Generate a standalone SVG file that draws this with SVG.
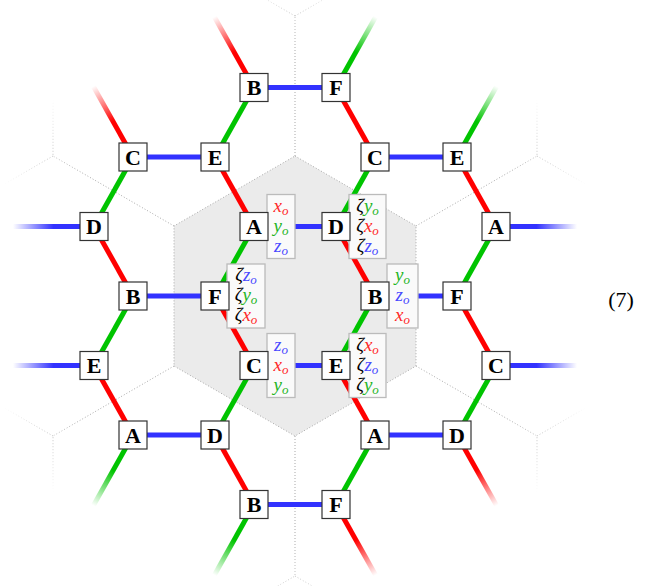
<svg xmlns="http://www.w3.org/2000/svg" width="670" height="586" viewBox="0 0 670 586">
<style>
.nb{fill:#fff;stroke:#333;stroke-width:1.2}
.nt{font-family:"Liberation Serif",serif;font-weight:bold;font-size:22px;text-anchor:middle;fill:#000}
.lb{fill:#fafafa;stroke:#bbb;stroke-width:1.3}
.lt{font-family:"Liberation Serif",serif;font-style:italic;font-size:19px;text-anchor:middle}
.sub{font-size:13px}
.r{fill:#ff2a2a}.g{fill:#1fb51f}.b{fill:#4a4aff}.k{fill:#000}
.er{stroke:#ff0000;stroke-width:5}
.eg{stroke:#00c400;stroke-width:5}
.eb{stroke:#3232ff;stroke-width:5}
.dot{fill:none;stroke:#a8a8a8;stroke-width:1;stroke-dasharray:1 2}
</style>
<defs>
<linearGradient id="fr" gradientUnits="userSpaceOnUse" x1="0" y1="0" x2="81" y2="0"><stop offset="0" stop-color="#ff0000"/><stop offset="0.5" stop-color="#ff0000"/><stop offset="1" stop-color="#ff0000" stop-opacity="0"/></linearGradient>
<linearGradient id="fg" gradientUnits="userSpaceOnUse" x1="0" y1="0" x2="81" y2="0"><stop offset="0" stop-color="#00c400"/><stop offset="0.5" stop-color="#00c400"/><stop offset="1" stop-color="#00c400" stop-opacity="0"/></linearGradient>
<linearGradient id="fb" gradientUnits="userSpaceOnUse" x1="0" y1="0" x2="81" y2="0"><stop offset="0" stop-color="#3232ff"/><stop offset="0.5" stop-color="#3232ff"/><stop offset="1" stop-color="#3232ff" stop-opacity="0"/></linearGradient>
<radialGradient id="rg" gradientUnits="userSpaceOnUse" cx="295" cy="296" r="312"><stop offset="0" stop-color="#fff"/><stop offset="0.78" stop-color="#fff"/><stop offset="0.9" stop-color="#aaa"/><stop offset="1" stop-color="#000"/></radialGradient>
<mask id="fm" maskUnits="userSpaceOnUse" x="0" y="0" width="670" height="586"><rect width="670" height="586" fill="url(#rg)"/></mask>
</defs>

<g id="background">
<polygon points="295,156 416,226 416,366 295,436 174,366 174,226" class="dot" style="fill:#ebebeb"/>
<path class="dot" mask="url(#fm)" d="M295,156V16M295,16L174,-54M295,16L416,-54M295,436V576L174,646M295,576L416,646M174,226L53,156V16M53,156L-68,226M174,366L53,436V576M53,436L-68,366M416,226L537,156V16M537,156L658,226M416,366L537,436V576M537,436L658,366"/>
</g>

<g id="connectors">
<line class="eb" x1="254" y1="87.5" x2="336" y2="87.5"/>
<line class="eb" x1="133" y1="157" x2="215" y2="157"/>
<line class="eb" x1="375" y1="157" x2="457" y2="157"/>
<line class="eb" x1="254" y1="226.5" x2="336" y2="226.5"/>
<line class="eb" x1="133" y1="296" x2="215" y2="296"/>
<line class="eb" x1="375" y1="296" x2="457" y2="296"/>
<line class="eb" x1="254" y1="365.5" x2="336" y2="365.5"/>
<line class="eb" x1="133" y1="435" x2="215" y2="435"/>
<line class="eb" x1="375" y1="435" x2="457" y2="435"/>
<line class="eb" x1="254" y1="504.5" x2="336" y2="504.5"/>

<line class="er" x1="336" y1="87.5" x2="375" y2="157"/>
<line class="er" x1="215" y1="157" x2="254" y2="226.5"/>
<line class="er" x1="457" y1="157" x2="496" y2="226.5"/>
<line class="er" x1="94" y1="226.5" x2="133" y2="296"/>
<line class="er" x1="336" y1="226.5" x2="375" y2="296"/>
<line class="er" x1="215" y1="296" x2="254" y2="365.5"/>
<line class="er" x1="457" y1="296" x2="496" y2="365.5"/>
<line class="er" x1="94" y1="365.5" x2="133" y2="435"/>
<line class="er" x1="336" y1="365.5" x2="375" y2="435"/>
<line class="er" x1="215" y1="435" x2="254" y2="504.5"/>

<line class="eg" x1="254" y1="87.5" x2="215" y2="157"/>
<line class="eg" x1="133" y1="157" x2="94" y2="226.5"/>
<line class="eg" x1="375" y1="157" x2="336" y2="226.5"/>
<line class="eg" x1="254" y1="226.5" x2="215" y2="296"/>
<line class="eg" x1="496" y1="226.5" x2="457" y2="296"/>
<line class="eg" x1="133" y1="296" x2="94" y2="365.5"/>
<line class="eg" x1="375" y1="296" x2="336" y2="365.5"/>
<line class="eg" x1="254" y1="365.5" x2="215" y2="435"/>
<line class="eg" x1="496" y1="365.5" x2="457" y2="435"/>
<line class="eg" x1="375" y1="435" x2="336" y2="504.5"/>

<line x1="0" y1="0" x2="81" y2="0" stroke="url(#fr)" stroke-width="5" transform="translate(254 87.5) rotate(-119.3)"/>
<line x1="0" y1="0" x2="81" y2="0" stroke="url(#fg)" stroke-width="5" transform="translate(336 87.5) rotate(-60.7)"/>
<line x1="0" y1="0" x2="81" y2="0" stroke="url(#fr)" stroke-width="5" transform="translate(133 157) rotate(-119.3)"/>
<line x1="0" y1="0" x2="81" y2="0" stroke="url(#fg)" stroke-width="5" transform="translate(457 157) rotate(-60.7)"/>
<line x1="0" y1="0" x2="81" y2="0" stroke="url(#fb)" stroke-width="5" transform="translate(94 226.5) rotate(180)"/>
<line x1="0" y1="0" x2="81" y2="0" stroke="url(#fb)" stroke-width="5" transform="translate(496 226.5)"/>
<line x1="0" y1="0" x2="81" y2="0" stroke="url(#fb)" stroke-width="5" transform="translate(94 365.5) rotate(180)"/>
<line x1="0" y1="0" x2="81" y2="0" stroke="url(#fb)" stroke-width="5" transform="translate(496 365.5)"/>
<line x1="0" y1="0" x2="81" y2="0" stroke="url(#fg)" stroke-width="5" transform="translate(133 435) rotate(119.3)"/>
<line x1="0" y1="0" x2="81" y2="0" stroke="url(#fr)" stroke-width="5" transform="translate(457 435) rotate(60.7)"/>
<line x1="0" y1="0" x2="81" y2="0" stroke="url(#fg)" stroke-width="5" transform="translate(254 504.5) rotate(119.3)"/>
<line x1="0" y1="0" x2="81" y2="0" stroke="url(#fr)" stroke-width="5" transform="translate(336 504.5) rotate(60.7)"/>
</g>

<g id="labels">
<g id="lab-A">
<rect class="lb" x="267" y="194.5" width="28" height="64"/>
<text class="lt" x="281" y="211.5"><tspan class="r">x</tspan><tspan class="r sub" dy="3">o</tspan></text>
<text class="lt" x="281" y="231.5"><tspan class="g">y</tspan><tspan class="g sub" dy="3">o</tspan></text>
<text class="lt" x="281" y="251.5"><tspan class="b">z</tspan><tspan class="b sub" dy="3">o</tspan></text>
</g>
<g id="lab-D">
<rect class="lb" x="349" y="194.5" width="37" height="64"/>
<text class="lt" x="367.5" y="211.5"><tspan class="k">ζ</tspan><tspan class="g">y</tspan><tspan class="g sub" dy="3">o</tspan></text>
<text class="lt" x="367.5" y="231.5"><tspan class="k">ζ</tspan><tspan class="r">x</tspan><tspan class="r sub" dy="3">o</tspan></text>
<text class="lt" x="367.5" y="251.5"><tspan class="k">ζ</tspan><tspan class="b">z</tspan><tspan class="b sub" dy="3">o</tspan></text>
</g>
<g id="lab-F">
<rect class="lb" x="227" y="264" width="38" height="64"/>
<text class="lt" x="246" y="281"><tspan class="k">ζ</tspan><tspan class="b">z</tspan><tspan class="b sub" dy="3">o</tspan></text>
<text class="lt" x="246" y="301"><tspan class="k">ζ</tspan><tspan class="g">y</tspan><tspan class="g sub" dy="3">o</tspan></text>
<text class="lt" x="246" y="321"><tspan class="k">ζ</tspan><tspan class="r">x</tspan><tspan class="r sub" dy="3">o</tspan></text>
</g>
<g id="lab-B">
<rect class="lb" x="387" y="264" width="31" height="64"/>
<text class="lt" x="402.5" y="281"><tspan class="g">y</tspan><tspan class="g sub" dy="3">o</tspan></text>
<text class="lt" x="402.5" y="301"><tspan class="b">z</tspan><tspan class="b sub" dy="3">o</tspan></text>
<text class="lt" x="402.5" y="321"><tspan class="r">x</tspan><tspan class="r sub" dy="3">o</tspan></text>
</g>
<g id="lab-C">
<rect class="lb" x="267" y="333.5" width="28" height="64"/>
<text class="lt" x="281" y="350.5"><tspan class="b">z</tspan><tspan class="b sub" dy="3">o</tspan></text>
<text class="lt" x="281" y="370.5"><tspan class="r">x</tspan><tspan class="r sub" dy="3">o</tspan></text>
<text class="lt" x="281" y="390.5"><tspan class="g">y</tspan><tspan class="g sub" dy="3">o</tspan></text>
</g>
<g id="lab-E">
<rect class="lb" x="349" y="333.5" width="37" height="64"/>
<text class="lt" x="367.5" y="350.5"><tspan class="k">ζ</tspan><tspan class="r">x</tspan><tspan class="r sub" dy="3">o</tspan></text>
<text class="lt" x="367.5" y="370.5"><tspan class="k">ζ</tspan><tspan class="b">z</tspan><tspan class="b sub" dy="3">o</tspan></text>
<text class="lt" x="367.5" y="390.5"><tspan class="k">ζ</tspan><tspan class="g">y</tspan><tspan class="g sub" dy="3">o</tspan></text>
</g>
</g>

<g id="nodes">
<g id="n1"><rect class="nb" x="240" y="73.5" width="28" height="28"/><text class="nt" x="254" y="95">B</text></g>
<g id="n2"><rect class="nb" x="322" y="73.5" width="28" height="28"/><text class="nt" x="336" y="95">F</text></g>
<g id="n3"><rect class="nb" x="119" y="143" width="28" height="28"/><text class="nt" x="133" y="164.5">C</text></g>
<g id="n4"><rect class="nb" x="201" y="143" width="28" height="28"/><text class="nt" x="215" y="164.5">E</text></g>
<g id="n5"><rect class="nb" x="361" y="143" width="28" height="28"/><text class="nt" x="375" y="164.5">C</text></g>
<g id="n6"><rect class="nb" x="443" y="143" width="28" height="28"/><text class="nt" x="457" y="164.5">E</text></g>
<g id="n7"><rect class="nb" x="80" y="212.5" width="28" height="28"/><text class="nt" x="94" y="234">D</text></g>
<g id="n8"><rect class="nb" x="240" y="212.5" width="28" height="28"/><text class="nt" x="254" y="234">A</text></g>
<g id="n9"><rect class="nb" x="322" y="212.5" width="28" height="28"/><text class="nt" x="336" y="234">D</text></g>
<g id="n10"><rect class="nb" x="482" y="212.5" width="28" height="28"/><text class="nt" x="496" y="234">A</text></g>
<g id="n11"><rect class="nb" x="119" y="282" width="28" height="28"/><text class="nt" x="133" y="303.5">B</text></g>
<g id="n12"><rect class="nb" x="201" y="282" width="28" height="28"/><text class="nt" x="215" y="303.5">F</text></g>
<g id="n13"><rect class="nb" x="361" y="282" width="28" height="28"/><text class="nt" x="375" y="303.5">B</text></g>
<g id="n14"><rect class="nb" x="443" y="282" width="28" height="28"/><text class="nt" x="457" y="303.5">F</text></g>
<g id="n15"><rect class="nb" x="80" y="351.5" width="28" height="28"/><text class="nt" x="94" y="373">E</text></g>
<g id="n16"><rect class="nb" x="240" y="351.5" width="28" height="28"/><text class="nt" x="254" y="373">C</text></g>
<g id="n17"><rect class="nb" x="322" y="351.5" width="28" height="28"/><text class="nt" x="336" y="373">E</text></g>
<g id="n18"><rect class="nb" x="482" y="351.5" width="28" height="28"/><text class="nt" x="496" y="373">C</text></g>
<g id="n19"><rect class="nb" x="119" y="421" width="28" height="28"/><text class="nt" x="133" y="442.5">A</text></g>
<g id="n20"><rect class="nb" x="201" y="421" width="28" height="28"/><text class="nt" x="215" y="442.5">D</text></g>
<g id="n21"><rect class="nb" x="361" y="421" width="28" height="28"/><text class="nt" x="375" y="442.5">A</text></g>
<g id="n22"><rect class="nb" x="443" y="421" width="28" height="28"/><text class="nt" x="457" y="442.5">D</text></g>
<g id="n23"><rect class="nb" x="240" y="490.5" width="28" height="28"/><text class="nt" x="254" y="512">B</text></g>
<g id="n24"><rect class="nb" x="322" y="490.5" width="28" height="28"/><text class="nt" x="336" y="512">F</text></g>
</g>

<text id="eqnum" x="621" y="307" font-family="Liberation Serif, serif" font-size="22" text-anchor="middle" fill="#000">(7)</text>
</svg>
